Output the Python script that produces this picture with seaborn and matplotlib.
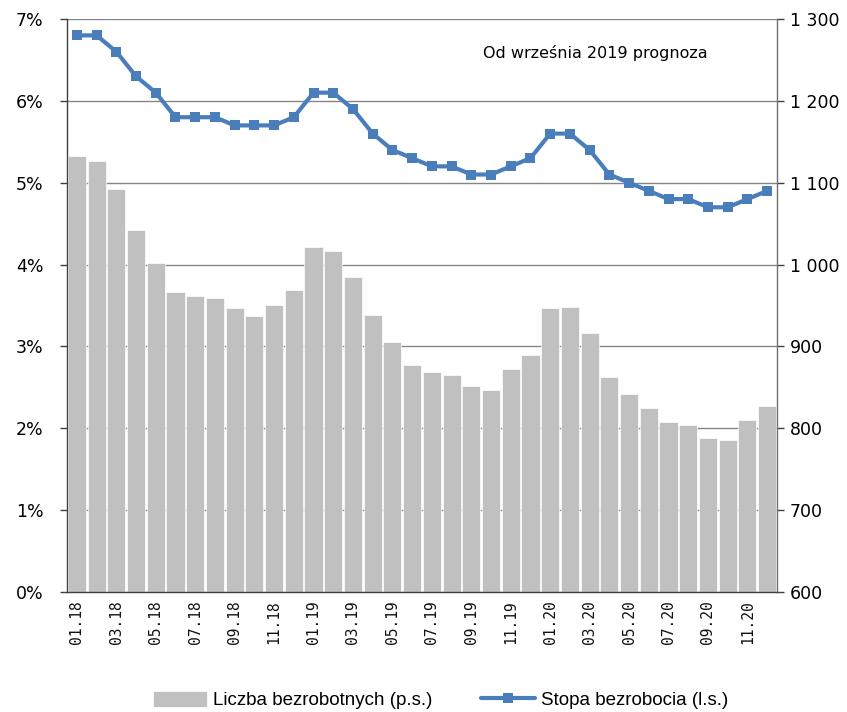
import numpy as np
import pandas as pd
import matplotlib
matplotlib.use("Agg")
import matplotlib.pyplot as plt
import seaborn as sns
from matplotlib.ticker import FuncFormatter, FixedLocator

months = ["01.18", "02.18", "03.18", "04.18", "05.18", "06.18", "07.18", "08.18", "09.18", "10.18", "11.18", "12.18",
          "01.19", "02.19", "03.19", "04.19", "05.19", "06.19", "07.19", "08.19", "09.19", "10.19", "11.19", "12.19",
          "01.20", "02.20", "03.20", "04.20", "05.20", "06.20", "07.20", "08.20", "09.20", "10.20", "11.20", "12.20"]
unemployed = [1133, 1126, 1092, 1042, 1002, 967, 961, 959, 947, 937, 950, 969,
              1022, 1016, 985, 938, 906, 877, 869, 865, 852, 847, 872, 889,
              947, 948, 916, 863, 842, 825, 808, 804, 788, 786, 810, 827]
rate = [6.8, 6.8, 6.6, 6.3, 6.1, 5.8, 5.8, 5.8, 5.7, 5.7, 5.7, 5.8,
        6.1, 6.1, 5.9, 5.6, 5.4, 5.3, 5.2, 5.2, 5.1, 5.1, 5.2, 5.3,
        5.6, 5.6, 5.4, 5.1, 5.0, 4.9, 4.8, 4.8, 4.7, 4.7, 4.8, 4.9]
bar_label = "Liczba bezrobotnych (p.s.)"
line_label = "Stopa bezrobocia (l.s.)"
note = "Od września 2019 prognoza"

df = pd.DataFrame({"month": months, "unemployed": unemployed, "rate": rate})
df["pos"] = np.arange(len(df))

sns.set_theme(style="white")
plt.rcParams["font.family"] = ["DejaVu Sans"]
plt.rcParams["text.color"] = "black"
plt.rcParams["xtick.color"] = "black"
plt.rcParams["ytick.color"] = "black"

fig = plt.figure(figsize=(8.47, 7.12), dpi=100)
ax = fig.add_axes([67/847, 1-592/712, 710/847, 573/712])
ax2 = ax.twinx()

BAR = "#c0c0c0"
LINE = "#4a7ebb"
GRID = "#858585"

# bars on right axis
sns.barplot(data=df, x="pos", y="unemployed", ax=ax2, color=BAR, width=0.92,
            saturation=1, edgecolor="white", linewidth=0.5, label=bar_label,
            native_scale=True)
ax2.set_ylim(600, 1300)
ax2.set_yticks(np.arange(600, 1301, 100))
ax2.yaxis.set_major_formatter(FuncFormatter(lambda v, p: f"{int(v):,}".replace(",", " ")))
ax2.yaxis.grid(True, color=GRID, linewidth=1.0)
ax2.set_axisbelow(True)
ax2.set_ylabel("")
ax2.set_xlabel("")

# line on left axis
sns.lineplot(data=df, x="pos", y="rate", ax=ax, color=LINE, linewidth=3.0,
             marker="s", markersize=7, markeredgewidth=0, label=line_label)
ax.set_zorder(ax2.get_zorder() + 1)
ax.patch.set_visible(False)
ax.set_ylim(0, 7)
ax.set_yticks(np.arange(0, 8, 1))
ax.yaxis.set_major_formatter(FuncFormatter(lambda v, p: f"{int(v)}%"))
ax.set_ylabel("")
ax.set_xlabel("")
ax.set_xlim(-0.5, len(months) - 0.5)

# x ticks: labels on every other month, tick marks at boundaries
lab_pos = df["pos"].values[::2]
ax.set_xticks(lab_pos)
ax.set_xticklabels(df["month"].values[::2], rotation=90, family="DejaVu Sans Mono",
                   fontsize=10.5, color="#111111")
ax.tick_params(axis="x", which="major", length=0, pad=6)
ax.xaxis.set_minor_locator(FixedLocator(np.arange(-0.5, len(months), 2)))
ax.tick_params(axis="x", which="minor", length=5, width=1, color="#404040", direction="out")
ax2.tick_params(axis="x", length=0)

ax.tick_params(axis="y", length=5, width=1, color="#404040", direction="out", labelsize=12.5,
               labelcolor="black", pad=12, left=True)
ax2.tick_params(axis="y", length=5, width=1, color="#404040", direction="out", labelsize=12.5,
                labelcolor="black", pad=4, right=True)

for a in (ax, ax2):
    for s in ["left", "right", "bottom", "top"]:
        a.spines[s].set_visible(False)
ax.spines["left"].set_visible(True)
ax.spines["left"].set_color("#404040")
ax.spines["bottom"].set_visible(True)
ax.spines["bottom"].set_color("#404040")
ax2.spines["right"].set_visible(True)
ax2.spines["right"].set_color("#707070")
for a in (ax, ax2):
    for s in a.spines.values():
        s.set_linewidth(1.0)

ax.text(0.744, 0.94, note, transform=ax.transAxes, ha="center", va="center",
        fontsize=11.5, color="black")

# legend
h1, l1 = ax2.get_legend_handles_labels()
h2, l2 = ax.get_legend_handles_labels()
for a in (ax, ax2):
    if a.get_legend() is not None:
        a.get_legend().remove()
fig.legend(h1 + h2, l1 + l2, loc="center", bbox_to_anchor=(0.52, 1 - 700/712),
           ncol=2, frameon=False, prop={"family": "Liberation Sans", "size": 13.5},
           labelcolor="black", handlelength=2.9, handleheight=1.0, columnspacing=2.6,
           handletextpad=0.3)

fig.savefig("out.png", dpi=100)
